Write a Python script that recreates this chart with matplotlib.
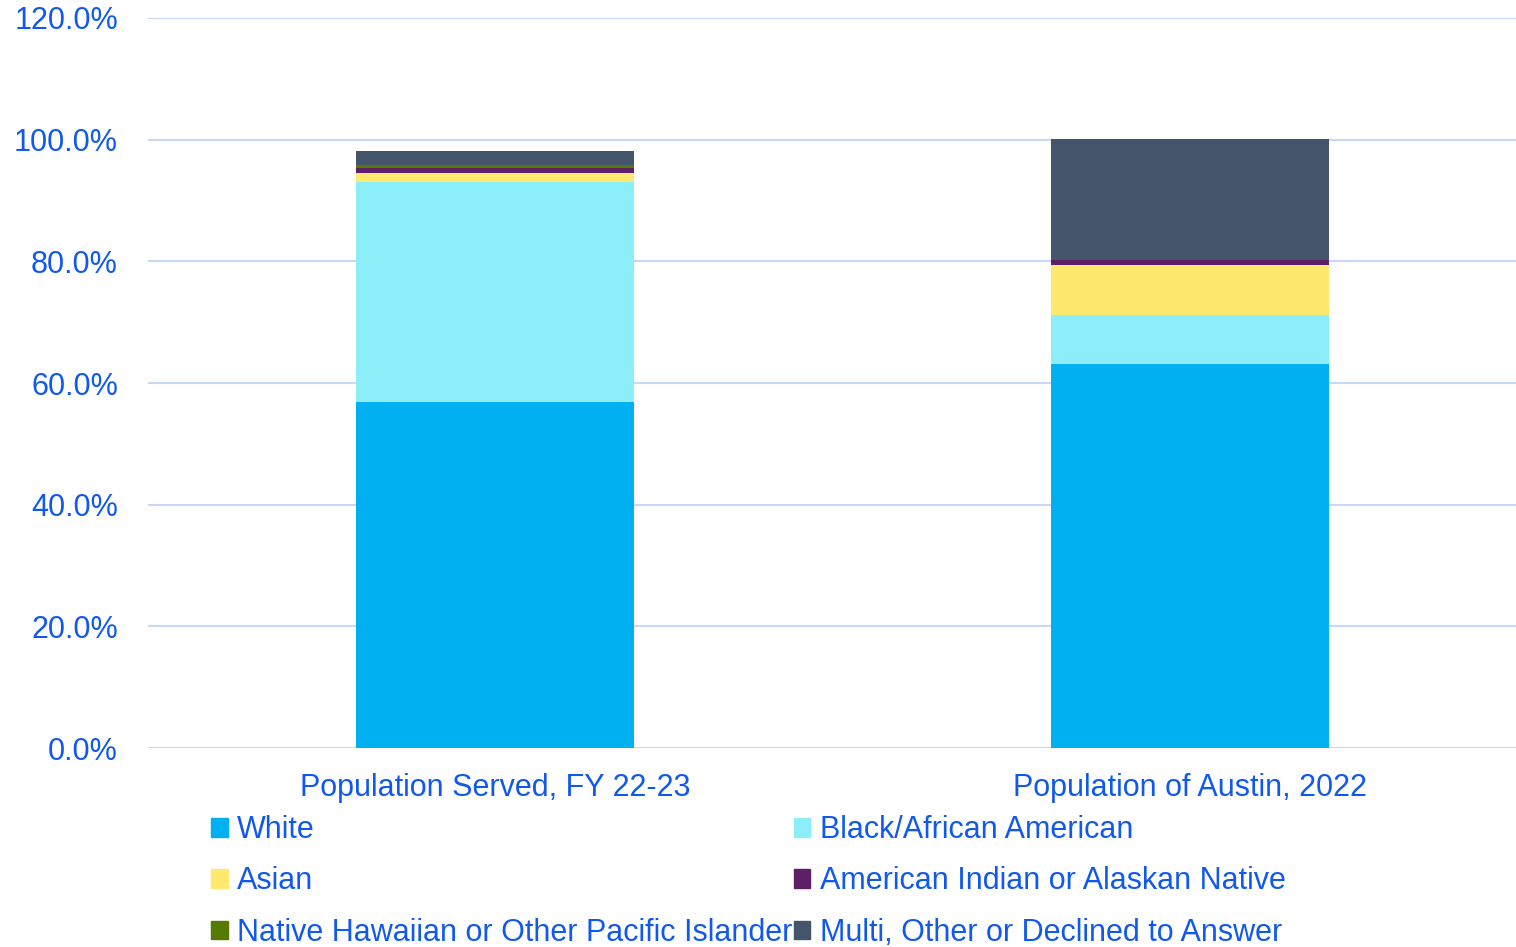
import matplotlib.pyplot as plt
from matplotlib.patches import Patch
from matplotlib.ticker import FuncFormatter

categories = ["Population Served, FY 22-23", "Population of Austin, 2022"]
series_names = [
    "White",
    "Black/African American",
    "Asian",
    "American Indian or Alaskan Native",
    "Native Hawaiian or Other Pacific Islander",
    "Multi, Other or Declined to Answer",
]
white = [56.9, 63.2]
black = [36.2, 7.9]
asian = [1.4, 8.3]
am_indian = [0.8, 0.8]
pacific = [0.5, 0.1]
multi = [2.3, 19.8]

colors = ["#00B0F0", "#8CEEF9", "#FEE86E", "#5F1F66", "#567A00", "#44546A"]
TEXT = "#1159EE"
GRID = "#C8D8F8"

plt.rcParams["font.family"] = ["Liberation Sans", "DejaVu Sans"]

fig = plt.figure(figsize=(15.16, 9.47), dpi=100)
ax = fig.add_axes([0.0976, 0.2101, 0.9024, 0.7709])

x = list(range(len(categories)))
bottom = [0.0, 0.0]
for vals, color in zip([white, black, asian, am_indian, pacific, multi], colors):
    ax.bar(x, vals, width=0.4, bottom=bottom, color=color, zorder=3)
    bottom = [b + v for b, v in zip(bottom, vals)]

ax.set_xlim(-0.5, 1.47)
ax.set_ylim(0, 120)
ax.set_yticks(range(0, 121, 20))
ax.yaxis.set_major_formatter(FuncFormatter(lambda v, _: f"{v:.1f}%"))
ax.set_xticks(x)
ax.set_xticklabels(categories)
ax.grid(axis="y", color=GRID, linewidth=1.5, zorder=0)
for s in ax.spines.values():
    s.set_visible(False)
ax.tick_params(axis="both", length=0, labelsize=22, labelcolor=TEXT)
ax.tick_params(axis="y", pad=21.6)
ax.tick_params(axis="x", pad=18)

# legend fills column-wise, so reorder to get row pairs
handles = [Patch(color=c) for c in colors]
order = [0, 2, 4, 1, 3, 5]
fig.legend(
    [handles[i] for i in order],
    [series_names[i] for i in order],
    loc="upper left",
    bbox_to_anchor=(0.139, 0.139),
    ncol=2,
    frameon=False,
    fontsize=22,
    labelcolor=TEXT,
    handlelength=0.55,
    handleheight=0.55,
    handletextpad=0.3,
    columnspacing=0.05,
    labelspacing=0.69,
    borderaxespad=0,
    borderpad=0,
)

fig.savefig("out.png", dpi=100)
